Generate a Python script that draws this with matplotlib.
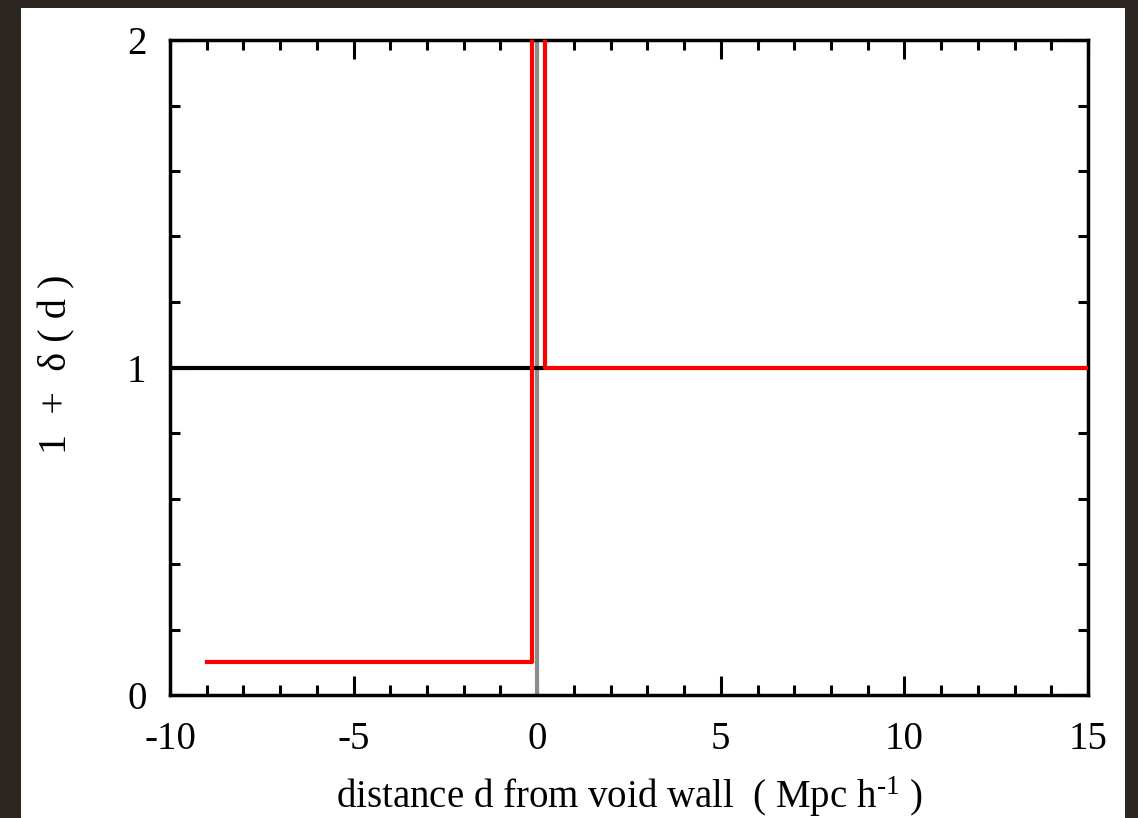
import matplotlib
matplotlib.use("Agg")
import matplotlib.pyplot as plt
from matplotlib.patches import Rectangle
from matplotlib.ticker import MultipleLocator

plt.rcParams["font.family"] = ["Liberation Serif", "DejaVu Serif"]
plt.rcParams["mathtext.fontset"] = "custom"
plt.rcParams["mathtext.rm"] = "Liberation Serif"
plt.rcParams["mathtext.it"] = "Liberation Serif:italic"
plt.rcParams["axes.unicode_minus"] = False

# void profile (red), mean density (black), wall position (gray)
red_x = [-9.0, -0.15, -0.15, 0.2, 0.2, 15.0]
red_y = [0.1, 0.1, 2.5, 2.5, 1.0, 1.0]
black_x = [-10.0, 0.15]
black_y = [1.0, 1.0]
gray_x = [0.0, 0.0]
gray_y = [0.0, 2.0]

x_ticks = [-10, -5, 0, 5, 10, 15]
y_ticks = [0, 1, 2]

fig = plt.figure(figsize=(11.38, 8.18), dpi=100, facecolor="#2d2522")
# white card on the dark background
fig.patches.append(Rectangle((21 / 1138, 0), (1125 - 21) / 1138, (818 - 8) / 818,
                             transform=fig.transFigure, facecolor="white",
                             edgecolor="none", zorder=-5))

ax = fig.add_axes([170 / 1138, 123 / 818, 918 / 1138, 655 / 818])
ax.set_zorder(2)
ax.set_facecolor("white")

ax.plot(gray_x, gray_y, color="#8c8c8c", lw=3.0, zorder=2)
ax.plot(black_x, black_y, color="black", lw=3.0, zorder=3)
ax.plot(red_x, red_y, color="#ff0000", lw=3.0, zorder=4)

ax.set_xlim(-10, 15)
ax.set_ylim(0, 2)
ax.set_xticks(x_ticks)
ax.set_yticks(y_ticks)
ax.xaxis.set_minor_locator(MultipleLocator(1))
ax.yaxis.set_minor_locator(MultipleLocator(0.2))

for s in ax.spines.values():
    s.set_linewidth(2.5)

ax.tick_params(which="both", direction="in", top=True, right=True, width=2.2,
               labelsize=28)
ax.tick_params(which="major", length=14)
ax.tick_params(which="minor", length=7.5)
ax.tick_params(axis="x", which="major", pad=19)
ax.tick_params(axis="y", which="major", pad=17)

ax.set_xlabel("distance d from void wall  ( Mpc h$^{\\text{-1}}$ )", fontsize=28)
ax.xaxis.set_label_coords(0.5, -0.1725)
ax.xaxis.label.set_verticalalignment("baseline")

ax.set_ylabel("1  +  δ ( d )", fontsize=29)
ax.yaxis.set_label_coords(-0.103, 0.505)

fig.savefig("out.png", dpi=100, facecolor=fig.get_facecolor())
